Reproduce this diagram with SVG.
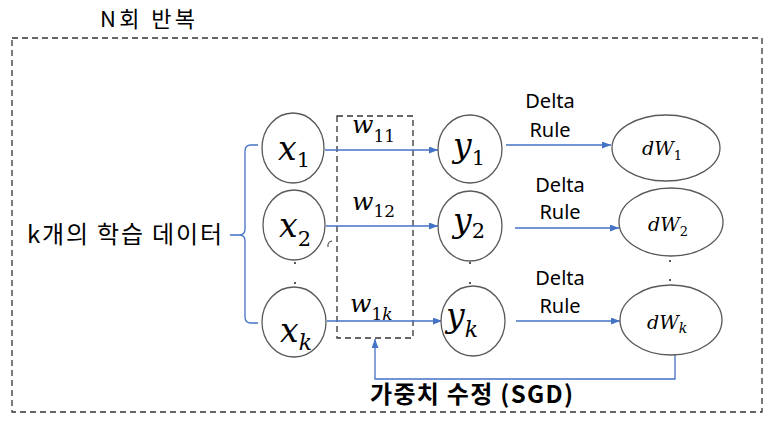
<svg xmlns="http://www.w3.org/2000/svg" width="773" height="435" viewBox="0 0 773 435">
<style>
.bg{fill:#ffffff}
.dash{fill:none;stroke:#333333;stroke-width:1.3;stroke-dasharray:6 4}
.node{fill:#ffffff;stroke:#595959;stroke-width:1.3}
.con{fill:none;stroke:#4472C4;stroke-width:1.3}
.ko{font-family:"Noto Sans CJK KR","Noto Sans",sans-serif;fill:#000}
.lbl{font-family:"Noto Sans","Liberation Sans",sans-serif;font-size:20px;fill:#000;text-anchor:middle}
.m{font-family:"DejaVu Serif","Liberation Serif",serif;font-style:italic;fill:#000}
.sub{font-style:normal}
.subi{font-style:italic}
.dot{fill:#222}
</style>
<defs>
<marker id="arr" markerUnits="userSpaceOnUse" markerWidth="9" markerHeight="7" refX="9" refY="3.5" orient="auto">
<path d="M0,0 L9,3.5 L0,7 z" fill="#4472C4"/>
</marker>
</defs>
<rect class="bg" x="0" y="0" width="773" height="435"/>
<text class="ko" x="100" y="27" font-size="22" textLength="95" lengthAdjust="spacing">N회 반복</text>
<rect class="dash" x="12" y="38" width="750" height="374"/>
<rect class="dash" x="337" y="116" width="76" height="222"/>
<text class="ko" x="27" y="243" font-size="24" textLength="195" lengthAdjust="spacing">k개의 학습 데이터</text>
<g id="connectors">
<path class="con" d="M258,145 H251 Q245,145 245,151 V229 Q245,235 239,235 H230 M239,235 Q245,235 245,241 V317 Q245,323 251,323 H258"/>
<path class="con" d="M325,150 H438" marker-end="url(#arr)"/>
<path class="con" d="M326,226 H438" marker-end="url(#arr)"/>
<path class="con" d="M327,321 H442" marker-end="url(#arr)"/>
<path class="con" d="M506,145 H611" marker-end="url(#arr)"/>
<path class="con" d="M515,228 H619" marker-end="url(#arr)"/>
<path class="con" d="M516,321 H620" marker-end="url(#arr)"/>
<path class="con" d="M675,355 V379 H375 V339" marker-end="url(#arr)"/>
</g>
<g id="x1"><ellipse class="node" cx="293" cy="148" rx="31" ry="35"/><text class="m" x="278" y="160" font-size="33">x<tspan class="sub" font-size="21" dy="7">1</tspan></text></g>
<g id="x2"><ellipse class="node" cx="294" cy="225" rx="31" ry="35"/><text class="m" x="279" y="237" font-size="33">x<tspan class="sub" font-size="21" dy="9">2</tspan></text></g>
<g id="xk"><ellipse class="node" cx="294" cy="322" rx="32" ry="35"/><text class="m" x="280" y="342" font-size="33">x<tspan class="subi" font-size="22" dy="8">k</tspan></text></g>
<g id="y1"><ellipse class="node" cx="470" cy="149" rx="32" ry="34"/><text class="m" x="453" y="157" font-size="33">y<tspan class="sub" font-size="21" dy="8">1</tspan></text></g>
<g id="y2"><ellipse class="node" cx="470" cy="226" rx="32" ry="35"/><text class="m" x="453" y="232" font-size="33">y<tspan class="sub" font-size="21" dy="6">2</tspan></text></g>
<g id="yk"><ellipse class="node" cx="473" cy="321" rx="32" ry="35"/><text class="m" x="446" y="327" font-size="33">y<tspan class="subi" font-size="22" dy="10">k</tspan></text></g>
<g id="dW1"><ellipse class="node" cx="666" cy="148" rx="54" ry="33"/><text class="m" x="642" y="155" font-size="19">dW<tspan class="sub" font-size="13" dy="5">1</tspan></text></g>
<g id="dW2"><ellipse class="node" cx="671" cy="222" rx="52" ry="34"/><text class="m" x="648" y="231" font-size="19">dW<tspan class="sub" font-size="13" dy="5">2</tspan></text></g>
<g id="dWk"><ellipse class="node" cx="671" cy="320" rx="51" ry="35"/><text class="m" x="647" y="329" font-size="19">dW<tspan class="subi" font-size="14" dy="4">k</tspan></text></g>
<g id="weights">
<text class="m" x="352" y="133" font-size="25">w<tspan class="sub" font-size="17" dy="9">11</tspan></text>
<text class="m" x="352" y="210" font-size="25">w<tspan class="sub" font-size="17" dy="7">12</tspan></text>
<text class="m" x="350" y="312" font-size="25">w<tspan class="sub" font-size="17" dy="8">1</tspan><tspan class="subi" font-size="17">k</tspan></text>
</g>
<g id="deltas">
<text class="lbl" x="550" y="108">Delta</text><text class="lbl" x="550" y="137">Rule</text>
<text class="lbl" x="560" y="192">Delta</text><text class="lbl" x="560" y="219">Rule</text>
<text class="lbl" x="560" y="285">Delta</text><text class="lbl" x="560" y="313">Rule</text>
</g>
<g id="dots">
<circle class="dot" cx="295" cy="263" r="1"/><circle class="dot" cx="295" cy="283" r="1"/>
<circle class="dot" cx="470" cy="263" r="1"/><circle class="dot" cx="470" cy="283" r="1"/>
<circle class="dot" cx="670" cy="261" r="1"/><circle class="dot" cx="670" cy="280" r="1"/>
</g>
<path d="M328,247 V244 Q329,241 332,241" fill="none" stroke="#333" stroke-width="1"/>
<text class="ko" x="370" y="403" font-size="24" font-weight="bold" textLength="203" lengthAdjust="spacing">가중치 수정 (SGD)</text>
</svg>
